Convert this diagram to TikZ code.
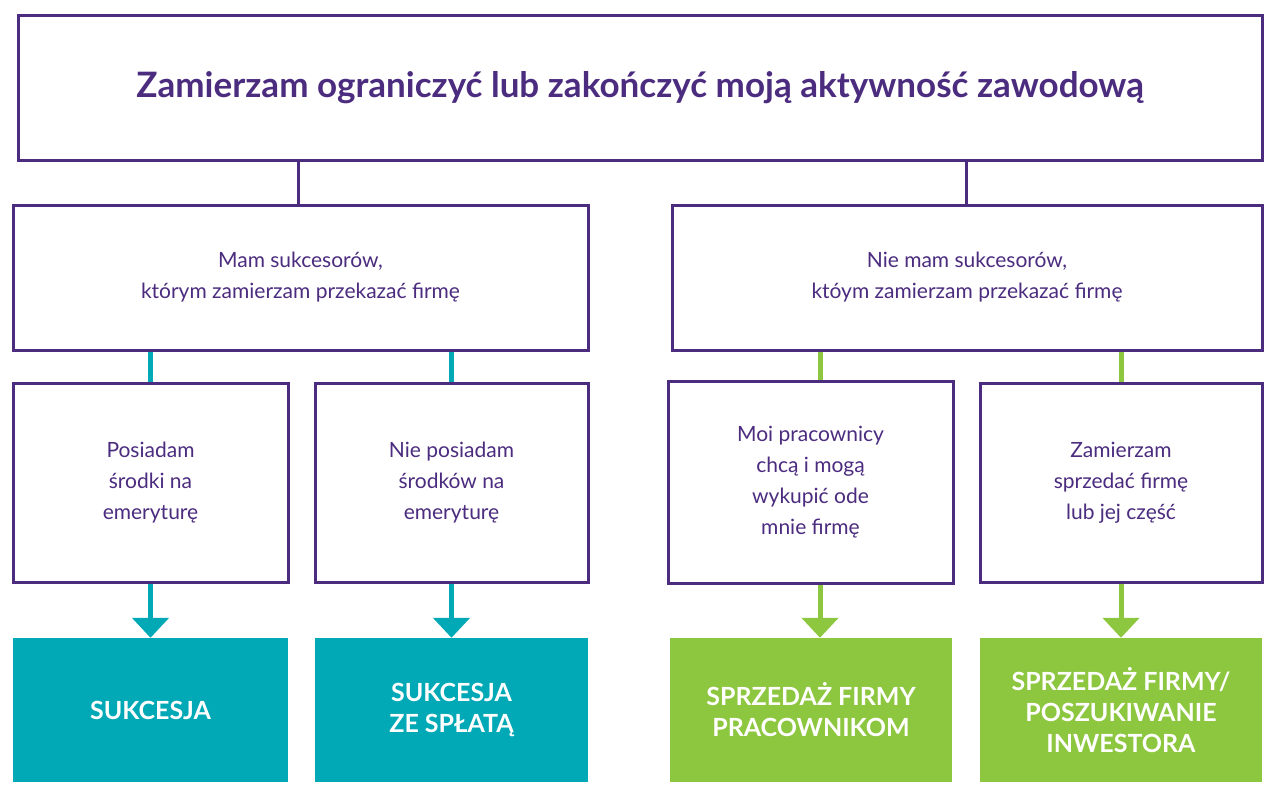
\documentclass[tikz,border=0pt]{standalone}
\usepackage{fontspec}
\setmainfont{Lato}
\usetikzlibrary{arrows.meta}
\definecolor{fiolet}{HTML}{4B2C7F}
\definecolor{morski}{HTML}{00A9B5}
\definecolor{zielony}{HTML}{8DC63F}
\tikzset{
  ramka/.style={draw=fiolet,line width=3pt,fill=white,text=fiolet,align=center,font=\fontsize{21}{31}\selectfont},
  wynik/.style={fill=#1,text=white,align=center,font=\bfseries\fontsize{25}{31}\selectfont},
  lacznik/.style={draw=#1,line width=5pt},
  strzalka/.style={draw=#1,line width=5pt,-{Triangle[width=36pt,length=20pt]}}
}
\begin{document}
\begin{tikzpicture}[x=1pt,y=-1pt]
  \useasboundingbox (0,0) rectangle (1280,800);
  % Node: Top
  \node[ramka,minimum width=1244pt,minimum height=144pt,font=\bfseries\fontsize{35}{40}\selectfont] (top) at (640,88) {Zamierzam ograniczyć lub zakończyć moją aktywność zawodową};
  % Node: Mid
  \node[ramka,minimum width=575pt,minimum height=145pt] (mamS) at (300.5,277.5) {Mam sukcesorów,\\ którym zamierzam przekazać firmę};
  \node[ramka,minimum width=590pt,minimum height=145pt] (nieS) at (967,277.5) {Nie mam sukcesorów,\\ któym zamierzam przekazać firmę};
  % Node: Options
  \node[ramka,minimum width=275pt,minimum height=199pt] (srodki) at (150.5,482.5) {Posiadam\\ środki na\\ emeryturę};
  \node[ramka,minimum width=273pt,minimum height=199pt] (brak) at (451.5,482.5) {Nie posiadam\\ środków na\\ emeryturę};
  \node[ramka,minimum width=285pt,minimum height=202pt] (prac) at (810.5,482) {Moi pracownicy\\ chcą i mogą\\ wykupić ode\\ mnie firmę};
  \node[ramka,minimum width=282pt,minimum height=199pt] (sprz) at (1121,482.5) {Zamierzam\\ sprzedać firmę\\ lub jej część};
  % Node: Results
  \node[wynik=morski,minimum width=275pt,minimum height=144pt] (suk) at (150.5,710) {SUKCESJA};
  \node[wynik=morski,minimum width=273pt,minimum height=144pt] (sukS) at (451.5,710) {SUKCESJA\\ ZE SPŁATĄ};
  \node[wynik=zielony,minimum width=282pt,minimum height=144pt] (sprzP) at (811,710) {SPRZEDAŻ FIRMY\\ PRACOWNIKOM};
  \node[wynik=zielony,minimum width=282pt,minimum height=144pt] (sprzI) at (1121,710) {SPRZEDAŻ FIRMY/\\ POSZUKIWANIE\\ INWESTORA};
  % Edges
  \draw[fiolet,line width=3pt] (top.south -| 298,0) -- (mamS.north -| 298,0);
  \draw[fiolet,line width=3pt] (top.south -| 966,0) -- (nieS.north -| 966,0);
  \draw[lacznik=morski] (mamS.south -| srodki) -- (srodki.north);
  \draw[lacznik=morski] (mamS.south -| brak) -- (brak.north);
  \draw[lacznik=zielony] (nieS.south -| 820,0) -- (prac.north -| 820,0);
  \draw[lacznik=zielony] (nieS.south -| sprz) -- (sprz.north);
  \draw[strzalka=morski] (srodki.south) -- (suk.north);
  \draw[strzalka=morski] (brak.south) -- (sukS.north);
  \draw[strzalka=zielony] (prac.south -| 820,0) -- (sprzP.north -| 820,0);
  \draw[strzalka=zielony] (sprz.south) -- (sprzI.north);
\end{tikzpicture}
\end{document}
